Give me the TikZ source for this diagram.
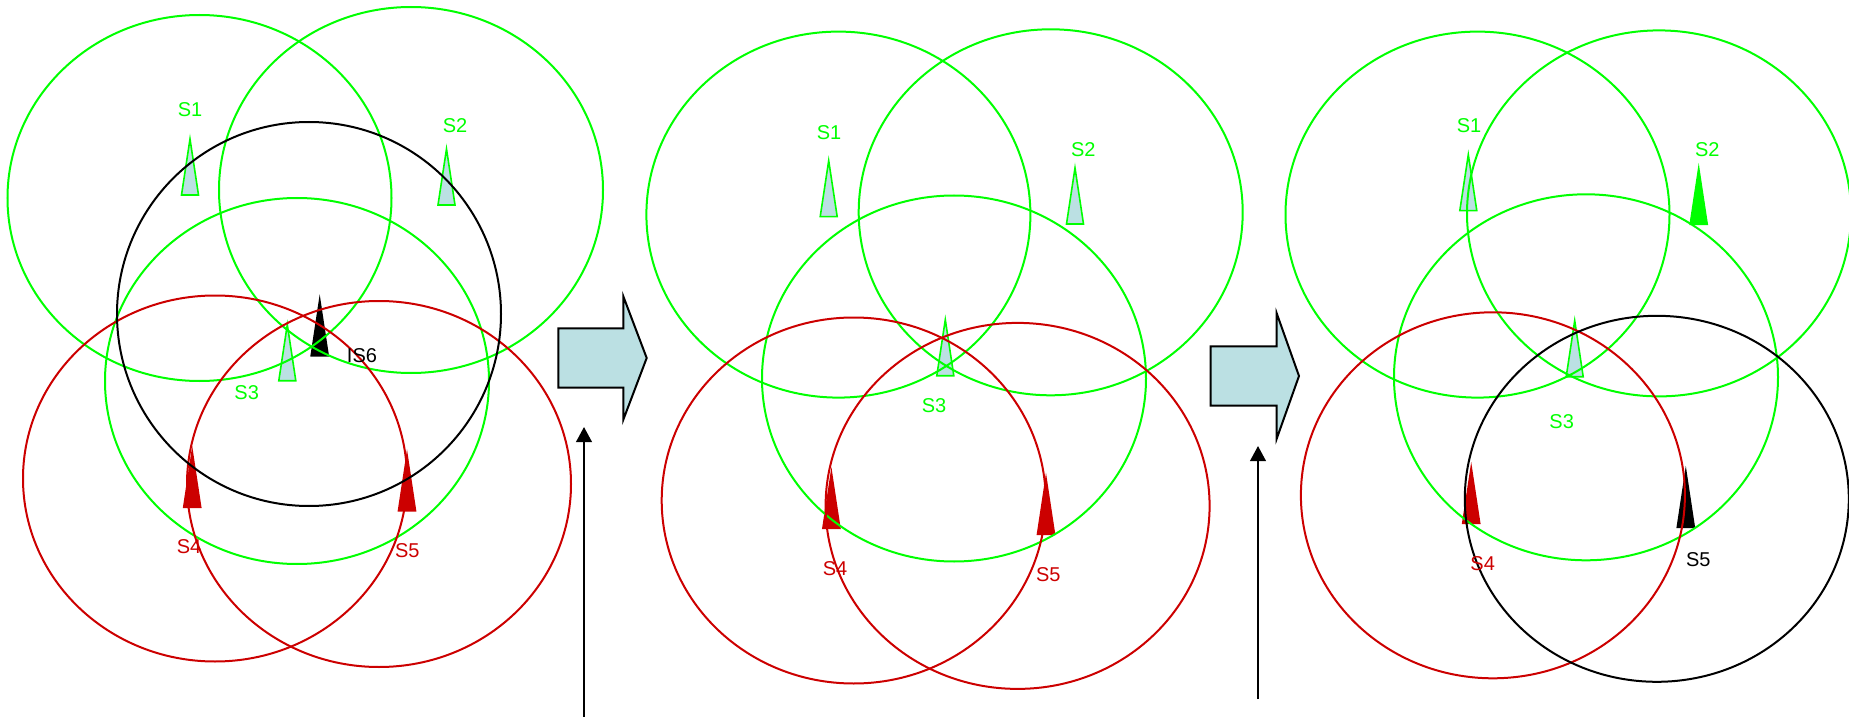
\documentclass[tikz,border=0pt]{standalone}
\usepackage{fontspec}
\setmainfont{Liberation Sans}
\usepackage{xcolor}
\usepackage{tikz}
\usetikzlibrary{shapes.geometric, arrows.meta, positioning, calc}

\definecolor{sgreen}{RGB}{0,255,0}
\definecolor{sred}{RGB}{204,0,0}
\definecolor{sblue}{RGB}{187,224,227}

\begin{document}
\begin{tikzpicture}[
    x=0.5pt, y=-0.5pt,
    cell/.style={draw, ellipse, minimum width=192pt, minimum height=183pt, inner sep=0pt, line width=1pt},
    gcell/.style={cell, draw=sgreen},
    rcell/.style={cell, draw=sred},
    kcell/.style={cell, draw=black},
    lbl/.style={font=\fontsize{10}{12}\selectfont, inner sep=0pt},
    gtri/.style={draw=sgreen, fill=sblue, line width=0.8pt},
    rtri/.style={draw=sred, fill=sred, line width=0.8pt},
    ktri/.style={draw=black, fill=black, line width=0.8pt},
    ftri/.style={draw=sgreen, fill=sgreen, line width=0.8pt},
    blk/.style={draw=black, fill=sblue, line width=1pt},
    arr/.style={-{Triangle[width=7.8pt,length=7.5pt]}, line width=1pt},
]
\useasboundingbox (0,0) rectangle (1849,717);

% station markers (drawn first, rings go over them)
\foreach \x/\y in {190/195, 446.5/205, 287.3/380.7, 828.7/216.7, 1075/224, 945.3/375.7, 1468.3/210.7, 1574.7/376.7}
    \draw[gtri] (\x-8.5,\y) -- (\x,\y-56) -- (\x+8.5,\y) -- cycle;
\foreach \x/\y in {192.2/507.3, 407/510.7, 831.4/528.3, 1046/534.2, 1471.2/523.3}
    \draw[rtri] (\x-8.5,\y) -- (\x,\y-56) -- (\x+8.5,\y) -- cycle;
\foreach \x/\y in {319.7/355.7, 1685.8/527.3}
    \draw[ktri] (\x-8.5,\y) -- (\x,\y-56) -- (\x+8.5,\y) -- cycle;
\draw[ftri] (1690.2,224.3) -- (1698.7,168.3) -- (1707.2,224.3) -- cycle;

% panel 1
\node[gcell] (p1s1) at (199.5,198) {};
\node[gcell] (p1s2) at (411,190) {};
\node[gcell] (p1s3) at (297,381) {};
\node[rcell] (p1s4) at (215,478.5) {};
\node[rcell] (p1s5) at (379,484) {};
\node[kcell, minimum height=192pt] (p1s6) at (309,314) {};

\node[lbl, text=sgreen] (p1l1) at (190,110) {S1};
\node[lbl, text=sgreen] (p1l2) at (455,126) {S2};
\node[lbl, text=sgreen] (p1l3) at (246.7,392.7) {S3};
\node[lbl, text=sred] (p1l4) at (189,546.7) {S4};
\node[lbl, text=sred] (p1l5) at (407.3,551) {S5};
\node[lbl] (p1l6) at (362,356) {IS6};

% panel 2
\node[gcell] (p2s1) at (838.4,214.6) {};
\node[gcell] (p2s2) at (1050.7,212.3) {};
\node[gcell] (p2s3) at (954,378.5) {};
\node[rcell] (p2s4) at (853.7,500.5) {};
\node[rcell] (p2s5) at (1017.6,505.9) {};

\node[lbl, text=sgreen] (p2l1) at (829,132.7) {S1};
\node[lbl, text=sgreen] (p2l2) at (1083.3,149.3) {S2};
\node[lbl, text=sgreen] (p2l3) at (934,406) {S3};
\node[lbl, text=sred] (p2l4) at (835,568.4) {S4};
\node[lbl, text=sred] (p2l5) at (1048.3,574.3) {S5};

% panel 3
\node[gcell] (p3s1) at (1477.5,214.6) {};
\node[gcell] (p3s2) at (1659,213.4) {};
\node[gcell] (p3s3) at (1586,377.3) {};
\node[rcell] (p3s4) at (1492.9,495.3) {};
\node[kcell] (p3s5) at (1656.8,498.8) {};

\node[lbl, text=sgreen] (p3l1) at (1469,126) {S1};
\node[lbl, text=sgreen] (p3l2) at (1707.3,149.3) {S2};
\node[lbl, text=sgreen] (p3l3) at (1561.7,421.7) {S3};
\node[lbl, text=sred] (p3l4) at (1482.7,563.3) {S4};
\node[lbl] (p3l5) at (1698.3,560) {S5};

% step arrows
\draw[blk] (558.3,328.3) -- (623.3,328.3) -- (623.3,296.3) -- (646.7,358) -- (623.3,419.7) -- (623.3,387.7) -- (558.3,387.7) -- cycle;
\draw[blk] (1210.7,346.3) -- (1276.7,346.3) -- (1276.7,313.3) -- (1299,376) -- (1276.7,438.7) -- (1276.7,405.7) -- (1210.7,405.7) -- cycle;

\coordinate (up1a) at (584,717);
\coordinate (up1b) at (584,427);
\coordinate (up2a) at (1258,699);
\coordinate (up2b) at (1258,446);
\draw[arr] (up1a) -- (up1b);
\draw[arr] (up2a) -- (up2b);
\end{tikzpicture}
\end{document}
